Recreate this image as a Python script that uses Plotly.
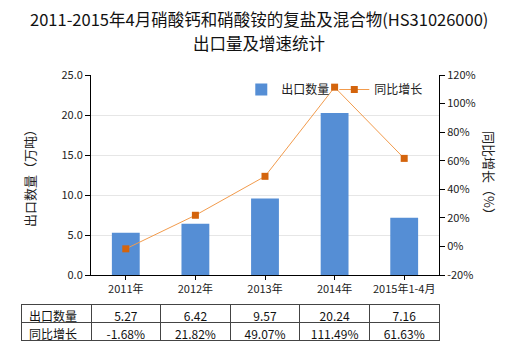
import plotly.graph_objects as go

categories = ["2011年", "2012年", "2013年", "2014年", "2015年1-4月"]
export_qty = [5.27, 6.42, 9.57, 20.24, 7.16]
growth_pct = [-1.68, 21.82, 49.07, 111.49, 61.63]
left_ticks = [0, 5, 10, 15, 20, 25]
right_ticks = [-20, 0, 20, 40, 60, 80, 100, 120]
title_lines = ["2011-2015年4月硝酸钙和硝酸铵的复盐及混合物(HS31026000)", "出口量及增速统计"]

FONT = "Noto Sans CJK SC"
BAR_C = "#558ED5"
LINE_C = "#F29B4C"
MARK_C = "#D4640C"

fig = go.Figure()
fig.add_trace(go.Bar(
    x=categories, y=export_qty, name="出口数量", width=0.4,
    marker=dict(color=BAR_C, line=dict(width=0)), yaxis="y",
))
fig.add_trace(go.Scatter(
    x=categories, y=growth_pct, name="同比增长", yaxis="y2",
    mode="lines+markers",
    line=dict(color=LINE_C, width=1),
    marker=dict(symbol="square", size=7, color=MARK_C),
))

fig.add_trace(go.Table(
    domain=dict(x=[0, 1], y=[0, 37 / 266]),
    columnwidth=[70] + [69.6] * len(categories),
    header=dict(
        values=["出口数量"] + [f"{v:.2f}" for v in export_qty],
        height=18, align=["left"] + ["center"] * len(categories),
        fill=dict(color="white"), line=dict(color="#444", width=1),
        font=dict(family=FONT, size=12, color="#111"),
    ),
    cells=dict(
        values=[["同比增长"]] + [[f"{g:.2f}%"] for g in growth_pct],
        height=18, align=["left"] + ["center"] * len(categories),
        fill=dict(color="white"), line=dict(color="#444", width=1),
        font=dict(family=FONT, size=12, color="#111"),
    ),
))

title_ann = [
    dict(
        text=line, xref="paper", yref="paper", x=(259 - 21) / 418,
        y=1 + (75 - ypx) / 266, xanchor="center", yanchor="middle", showarrow=False,
        font=dict(family=FONT, size=16.5, color="#111"),
    )
    for line, ypx in zip(title_lines, [19, 43])
]

fig.update_layout(
    width=520, height=350,
    margin=dict(l=21, r=81, t=75, b=9, autoexpand=False),
    paper_bgcolor="white", plot_bgcolor="white",
    font=dict(family=FONT, size=12, color="#222"),
    showlegend=True,
    legend=dict(
        orientation="h", x=0.527, xref="paper", y=1.0, yref="paper",
        xanchor="left", yanchor="top",
        font=dict(family=FONT, size=12, color="#222"),
        bgcolor="rgba(0,0,0,0)", itemwidth=30,
    ),
    bargap=0.6,
    xaxis=dict(
        domain=[70 / 418, 1], type="category", automargin=False,
        showline=True, linecolor="#000", linewidth=1,
        ticks="outside", ticklen=4, tickcolor="#000",
        showgrid=False, tickfont=dict(size=11, color="#222"),
    ),
    yaxis=dict(
        domain=[66 / 266, 1], range=[0, 25], tickvals=left_ticks,
        tickformat=".1f", showline=True, linecolor="#000", linewidth=1,
        ticks="outside", ticklen=5, tickcolor="#000", automargin=False,
        showgrid=True, gridcolor="#e6e6e6", zeroline=False,
        tickfont=dict(size=11, color="#222"),
        title=dict(text="出口数量（万吨）", font=dict(size=13, color="#222"), standoff=22),
    ),
    yaxis2=dict(
        overlaying="y", side="right", anchor="x", range=[-20, 120],
        tickmode="array", tickvals=right_ticks,
        ticktext=[f"{t}%" for t in right_ticks], automargin=False,
        showline=True, linecolor="#000", linewidth=1,
        ticks="outside", ticklen=5, tickcolor="#000",
        showgrid=False, zeroline=False,
        tickfont=dict(size=11, color="#222"),
    ),
    annotations=title_ann + [
        dict(
            text="同比增长（%）", textangle=90, xref="paper", yref="paper",
            x=(490 - 21) / 418, y=0.62, xanchor="center", yanchor="middle", showarrow=False,
            font=dict(family=FONT, size=13, color="#222"),
        ),
    ],
)

fig.write_html("out.html")
